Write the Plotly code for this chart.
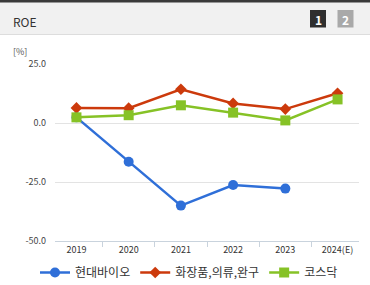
import plotly.graph_objects as go

years = ["2019", "2020", "2021", "2022", "2023", "2024(E)"]
hyundai_bio = [2.4, -16.4, -35.0, -26.3, -27.8, None]
cosmetics = [6.4, 6.3, 14.3, 8.3, 5.9, 12.6]
kosdaq = [2.4, 3.3, 7.5, 4.4, 1.1, 10.0]
y_ticks = [25, 0, -25, -50]
y_tick_labels = ["25.0", "0.0", "-25.0", "-50.0"]

W, H = 370, 285
L, R, T, B = 55, 359, 64, 241

def px(x):
    return (x - L) / (R - L)

def py(y):
    return (B - y) / (B - T)

fig = go.Figure()
fig.add_trace(go.Scatter(x=years, y=hyundai_bio, name="현대바이오", mode="lines+markers",
                         line=dict(color="#2f6fd8", width=2.5),
                         marker=dict(symbol="circle", size=10, color="#2f6fd8")))
fig.add_trace(go.Scatter(x=years, y=cosmetics, name="화장품,의류,완구", mode="lines+markers",
                         line=dict(color="#cc3a0c", width=2.5),
                         marker=dict(symbol="diamond", size=9, color="#cc3a0c")))
fig.add_trace(go.Scatter(x=years, y=kosdaq, name="코스닥", mode="lines+markers",
                         line=dict(color="#86c226", width=2.5),
                         marker=dict(symbol="square", size=10, color="#86c226")))

shapes = [
    dict(type="rect", xref="paper", yref="paper", x0=px(0), x1=px(W), y0=py(34), y1=py(0),
         fillcolor="#f1f1f1", line=dict(width=0), layer="below"),
    dict(type="rect", xref="paper", yref="paper", x0=px(0), x1=px(W), y0=py(2.5), y1=py(0),
         fillcolor="#3a3a3a", line=dict(width=0)),
    dict(type="line", xref="paper", yref="paper", x0=px(0), x1=px(W), y0=py(34.5), y1=py(34.5),
         line=dict(color="#dddddd", width=1)),
    dict(type="rect", xref="paper", yref="paper", x0=px(310), x1=px(326), y0=py(27.5), y1=py(10),
         fillcolor="#2f2f2f", line=dict(width=0)),
    dict(type="rect", xref="paper", yref="paper", x0=px(337.5), x1=px(353.5), y0=py(27.5), y1=py(10),
         fillcolor="#a9a9a9", line=dict(width=0)),
]

annotations = [
    dict(text="ROE", xref="paper", yref="paper", x=px(11), y=py(21.5), xanchor="left", yanchor="middle",
         showarrow=False, font=dict(size=12, color="#333333")),
    dict(text="<b>1</b>", xref="paper", yref="paper", x=px(318), y=py(19), xanchor="center", yanchor="middle",
         showarrow=False, font=dict(size=12, color="#ffffff")),
    dict(text="<b>2</b>", xref="paper", yref="paper", x=px(345.5), y=py(19), xanchor="center", yanchor="middle",
         showarrow=False, font=dict(size=12, color="#ffffff")),
    dict(text="[%]", xref="paper", yref="paper", x=px(11), y=py(52), xanchor="left", yanchor="middle",
         showarrow=False, font=dict(size=9, color="#555555")),
]

fig.update_layout(
    width=W, height=H,
    margin=dict(l=L, r=W - R, t=T, b=H - B, pad=0, autoexpand=False),
    paper_bgcolor="white", plot_bgcolor="white",
    font=dict(family="Noto Sans CJK KR, sans-serif", size=10, color="#333333"),
    shapes=shapes, annotations=annotations,
    showlegend=True,
    legend=dict(orientation="h", x=px(35), y=py(258), xanchor="left", yanchor="top",
                font=dict(size=12, color="#333333"), itemwidth=30, tracegroupgap=0,
                bgcolor="rgba(0,0,0,0)"),
    xaxis=dict(type="category", showgrid=False, showline=True, linecolor="#c9d3dd", linewidth=1,
               ticks="outside", tickson="boundaries", ticklen=5, tickcolor="#c9d3dd",
               tickfont=dict(size=9, color="#333333"), fixedrange=True, zeroline=False),
    yaxis=dict(range=[-50, 25], tickvals=y_ticks, ticktext=y_tick_labels, showgrid=True,
               gridcolor="#e3e3e3", gridwidth=1, zeroline=False, showline=False, ticks="",
               ticklabelstandoff=8, tickfont=dict(size=9, color="#444444"), fixedrange=True),
)

fig.write_html("out.html")
